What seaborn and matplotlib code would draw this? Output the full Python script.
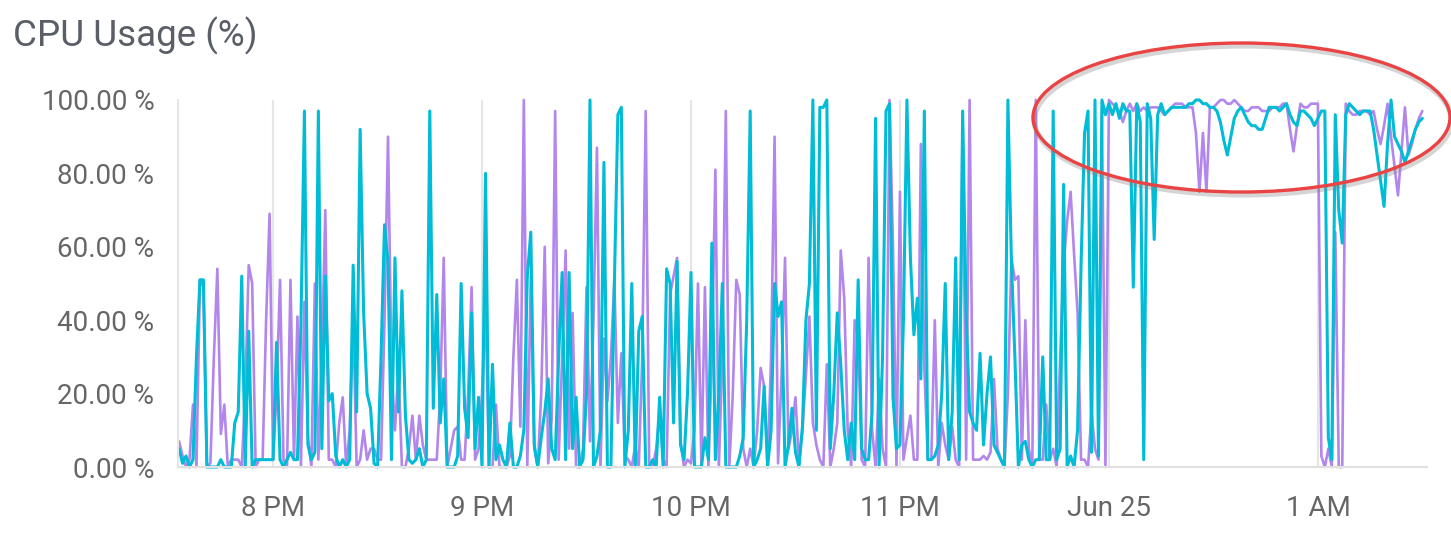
import numpy as np
import pandas as pd
import matplotlib
matplotlib.use("Agg")
import matplotlib.pyplot as plt
import matplotlib.patheffects as pe
from matplotlib.patches import Ellipse
import seaborn as sns

# ---------------- data (1-minute samples starting 19:33) ----------------
start_time = "2018-06-24 19:33"
series_names = ["cpu_a", "cpu_b"]

cpu_a = [  # cyan
    5, 1, 3, 0, 2, 30, 51, 51, 0, 0,
    0, 0, 2, 0, 0, 0, 12, 15, 52, 0,
    37, 0, 2, 2, 2, 2, 2, 2, 34, 2,
    0, 2, 4, 2, 2, 39, 97, 6, 2, 4,
    97, 5, 52, 18, 20, 3, 0, 2, 0, 2,
    55, 15, 92, 42, 20, 16, 1, 0, 30, 66,
    56, 2, 57, 15, 48, 14, 2, 1, 2, 5,
    0, 2, 97, 16, 47, 12, 24, 0, 0, 0,
    3, 50, 16, 8, 42, 5, 19, 0, 80, 0,
    28, 2, 6, 2, 0, 12, 0, 0, 3, 10,
    52, 64, 6, 0, 8, 15, 24, 5, 2, 30,
    53, 2, 53, 5, 19, 0, 2, 20, 100, 0,
    3, 10, 83, 0, 0, 50, 96, 98, 0, 10,
    50, 0, 37, 41, 0, 0, 2, 0, 19, 0,
    54, 50, 12, 56, 6, 2, 20, 53, 0, 0,
    0, 8, 2, 61, 2, 20, 50, 0, 0, 0,
    0, 3, 8, 40, 97, 0, 2, 5, 22, 0,
    10, 50, 41, 45, 0, 6, 16, 4, 0, 11,
    40, 50, 100, 10, 98, 98, 100, 5, 20, 42,
    28, 10, 2, 12, 2, 51, 5, 2, 2, 15,
    95, 0, 30, 97, 99, 19, 5, 6, 40, 100,
    57, 36, 46, 24, 97, 2, 2, 3, 6, 20,
    50, 2, 15, 57, 2, 97, 42, 15, 12, 10,
    31, 6, 20, 30, 6, 4, 2, 0, 100, 56,
    30, 0, 6, 7, 2, 0, 2, 2, 30, 2,
    2, 97, 2, 5, 77, 0, 3, 0, 10, 55,
    91, 97, 4, 100, 3, 100, 96, 99, 96, 99,
    95, 99, 97, 97, 49, 99, 94, 2, 99, 95,
    62, 96, 99, 96, 97, 98, 98, 98, 98, 98,
    99, 99, 100, 100, 99, 99, 98, 98, 97, 94,
    89, 85, 90, 95, 97, 98, 96, 94, 93, 93,
    92, 92, 95, 98, 98, 98, 97, 98, 99, 96,
    94, 93, 97, 97, 96, 95, 93, 95, 97, 97,
    8, 2, 96, 70, 61, 96, 99, 98, 97, 96,
    97, 97, 97, 92, 85, 78, 71, 88, 100, 90,
    88, 86, 83, 86, 89, 92, 94, 95,
]

cpu_b = [  # purple
    7, 3, 0, 2, 17, 0, 51, 49, 0, 1,
    30, 54, 9, 17, 0, 2, 2, 2, 0, 20,
    55, 50, 0, 2, 2, 40, 69, 2, 20, 51,
    2, 0, 51, 2, 41, 0, 45, 8, 0, 50,
    2, 30, 70, 2, 2, 0, 12, 19, 0, 10,
    41, 0, 2, 10, 2, 5, 5, 2, 2, 40,
    90, 27, 10, 27, 0, 0, 5, 14, 2, 14,
    6, 2, 2, 2, 2, 20, 57, 0, 5, 10,
    11, 2, 2, 20, 49, 2, 5, 20, 44, 0,
    0, 17, 0, 0, 0, 3, 30, 51, 11, 100,
    0, 52, 5, 0, 20, 60, 1, 13, 97, 2,
    30, 59, 5, 42, 0, 0, 5, 49, 7, 40,
    87, 0, 35, 18, 30, 51, 12, 31, 3, 2,
    0, 6, 0, 30, 97, 0, 0, 5, 15, 2,
    0, 47, 52, 57, 7, 0, 2, 1, 10, 50,
    0, 49, 0, 30, 81, 0, 30, 97, 0, 20,
    51, 47, 5, 0, 5, 0, 10, 27, 22, 0,
    30, 90, 1, 25, 57, 5, 10, 19, 1, 10,
    25, 41, 12, 6, 2, 0, 28, 0, 5, 12,
    59, 46, 10, 0, 40, 36, 2, 0, 57, 10,
    0, 24, 5, 0, 100, 60, 0, 75, 2, 8,
    14, 2, 2, 88, 27, 2, 2, 40, 0, 12,
    6, 2, 11, 2, 0, 95, 2, 100, 2, 2,
    2, 3, 2, 4, 24, 5, 2, 0, 20, 57,
    51, 52, 2, 40, 5, 0, 100, 2, 2, 17,
    2, 5, 0, 30, 55, 67, 75, 58, 42, 2,
    2, 0, 15, 5, 2, 97, 0, 100, 99, 98,
    97, 94, 97, 99, 97, 99, 97, 98, 97, 98,
    98, 98, 97, 96, 97, 98, 99, 99, 99, 98,
    98, 98, 91, 75, 91, 75, 98, 98, 99, 100,
    100, 99, 99, 100, 99, 98, 97, 97, 98, 98,
    98, 97, 97, 97, 98, 98, 98, 99, 99, 92,
    86, 93, 99, 98, 98, 99, 99, 99, 3, 0,
    5, 0, 64, 0, 0, 99, 97, 96, 96, 97,
    97, 97, 96, 97, 92, 88, 93, 99, 90, 82,
    74, 86, 98, 85, 88, 92, 95, 97,
]

y_ticks = [0, 20, 40, 60, 80, 100]
x_tick_times = ["2018-06-24 20:00", "2018-06-24 21:00", "2018-06-24 22:00",
                "2018-06-24 23:00", "2018-06-25 00:00", "2018-06-25 01:00"]
x_tick_labels = ["8 PM", "9 PM", "10 PM", "11 PM", "Jun 25", "1 AM"]
title = "CPU Usage (%)"

# ---------------- frame ----------------
times = pd.date_range(start_time, periods=len(cpu_a), freq="1min")
df = pd.DataFrame({
    "time": np.concatenate([times, times]),
    "value": cpu_a + cpu_b,
    "series": [series_names[0]] * len(cpu_a) + [series_names[1]] * len(cpu_b),
})

sns.set_style("white")
plt.rcParams["font.family"] = ["Roboto", "DejaVu Sans"]

W, H = 1451, 535
fig = plt.figure(figsize=(W / 100, H / 100), dpi=100)
ax = fig.add_axes([178 / W, 1 - 467 / H, (1427 - 178) / W, (467 - 100) / H])

purple = "#b386ec"
cyan = "#00bcd6"

sns.lineplot(data=df[df.series == series_names[1]], x="time", y="value",
             color=purple, linewidth=1.9, estimator=None, ax=ax, legend=False)
sns.lineplot(data=df[df.series == series_names[0]], x="time", y="value",
             color=cyan, linewidth=2.2, estimator=None, ax=ax, legend=False)
for ln in ax.lines:
    ln.set_clip_on(False)

t0 = times[0] - pd.Timedelta(seconds=18)
t1 = times[-1] + pd.Timedelta(seconds=80)
ax.set_xlim(t0, t1)
ax.set_ylim(0, 100)

ax.set_xticks(pd.to_datetime(x_tick_times))
ax.set_xticklabels(x_tick_labels)
ax.set_yticks(y_ticks)
ax.set_yticklabels([f"{v:.2f} %" for v in y_ticks])
ax.set_xlabel("")
ax.set_ylabel("")

ax.grid(axis="x", color="#e6e6e6", linewidth=1.5)
ax.grid(axis="y", visible=False)
ax.set_axisbelow(True)
ax.tick_params(axis="x", length=16, width=1.5, color="#e3e3e3", pad=4,
               labelsize=20, labelcolor="#666666")
ax.tick_params(axis="y", length=0, pad=17, labelsize=20, labelcolor="#666666")

for s in ["top", "right"]:
    ax.spines[s].set_visible(False)
ax.spines["bottom"].set_color("#e0e0e0")
ax.spines["bottom"].set_linewidth(1.5)
ax.spines["left"].set_color("#e6e6e6")
ax.spines["left"].set_linewidth(1.5)

fig.text(13 / W, 1 - 46 / H, title, fontsize=26.5, color="#5a5e66",
         ha="left", va="baseline")

ell = Ellipse((1241.5 / W, 1 - 117.5 / H), 417 / W, 149 / H,
              transform=fig.transFigure, fill=False, edgecolor="#ea4343",
              linewidth=2.4, zorder=10)
ell.set_path_effects([pe.SimpleLineShadow(offset=(1, -2), shadow_color="#888888",
                                          alpha=0.35, linewidth=4),
                      pe.Normal()])
fig.add_artist(ell)

fig.savefig("out.png", dpi=100)
